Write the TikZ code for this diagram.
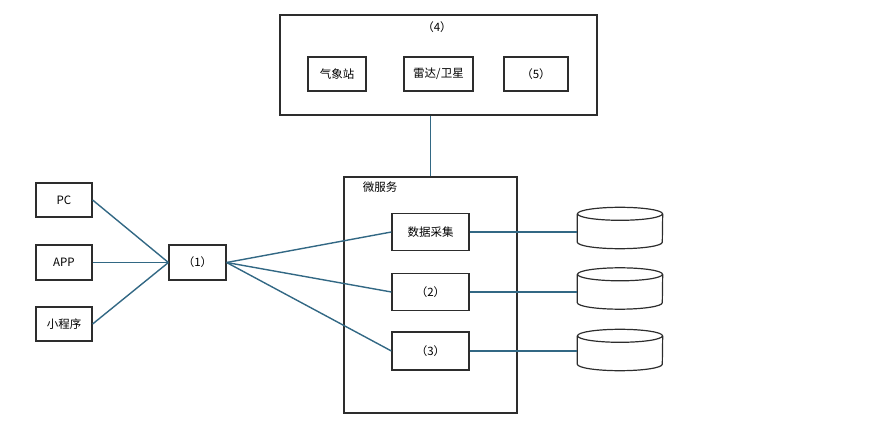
\documentclass[tikz,border=0pt]{standalone}
\usepackage{fontspec}
\setmainfont{Noto Sans CJK SC}
\definecolor{linkblue}{RGB}{50,104,132}
\definecolor{boxgray}{RGB}{45,45,45}
\begin{document}
\begin{tikzpicture}[x=1pt,y=-1pt]
			\tikzstyle{box}=[rectangle,draw=boxgray,line width=1.2pt,inner sep=0pt,font=\fontsize{11.5}{14}\selectfont]
			\tikzstyle{txt}=[inner sep=0pt,font=\fontsize{11.5}{14}\selectfont]
			\tikzstyle{db}=[rectangle,inner sep=0pt,minimum width=85pt,minimum height=41pt]
			\tikzstyle{dbline}=[draw=boxgray,line width=1.2pt]
			\tikzstyle{link}=[draw=linkblue,line width=1.4pt]
				\useasboundingbox (0,0) rectangle (879,422);
				% top group
				\node[box,minimum width=317pt,minimum height=100pt](src) at (438.5,65){};
				\node[txt](srclbl) at (437,27){（4）};
				\node[box,minimum width=58pt,minimum height=34pt](qxz) at (337,74){气象站};
				\node[box,minimum width=69pt,minimum height=34pt](ldwx) at (438.5,74){雷达/卫星};
				\node[box,minimum width=64pt,minimum height=34pt](v5) at (536,74){（5）};
				% micro services
				\node[box,minimum width=173pt,minimum height=236pt](ms) at (430.5,295){};
				\node[txt](mslbl) at (380,187){微服务};
				\node[box,minimum width=77pt,minimum height=37pt](sjcj) at (430.5,232){数据采集};
				\node[box,minimum width=77pt,minimum height=37pt](v2) at (430.5,292){（2）};
				\node[box,minimum width=77pt,minimum height=38pt](v3) at (430.5,351){（3）};
				% clients
				\node[box,minimum width=56pt,minimum height=34pt](pc) at (64,200){PC};
				\node[box,minimum width=56pt,minimum height=35pt](app) at (64,262.5){APP};
				\node[box,minimum width=56pt,minimum height=34pt](xcx) at (64,324){小程序};
				\node[box,minimum width=57pt,minimum height=35pt](v1) at (197.5,262.5){（1）};
				% databases
				\node[db](db1) at (620,228){};
				\node[db](db2) at (620,288.5){};
				\node[db](db3) at (620,350){};
				\foreach \d in {db1,db2,db3}{
					\draw[dbline] ([yshift=-6.5pt]\d.north west) -- ([yshift=6.5pt]\d.south west)
						arc[start angle=180,end angle=360,x radius=42.5pt,y radius=6.5pt]
						-- ([yshift=-6.5pt]\d.north east);
					\draw[dbline] ([yshift=-6.5pt]\d.north) ellipse[x radius=42.5pt,y radius=6.5pt];
				}
				\path[link]
					(pc.east) edge (v1.west)
					(app.east) edge (v1.west)
					(xcx.east) edge (v1.west)
					(v1.east) edge (sjcj.west)
					(v1.east) edge (v2.west)
					(v1.east) edge (v3.west)
					(ms.north) edge (ms.north |- src.south)
					(sjcj.east) edge (sjcj.east -| db1.west)
					(v2.east) edge (v2.east -| db2.west)
					(v3.east) edge (v3.east -| db3.west);
			\end{tikzpicture}
\end{document}
